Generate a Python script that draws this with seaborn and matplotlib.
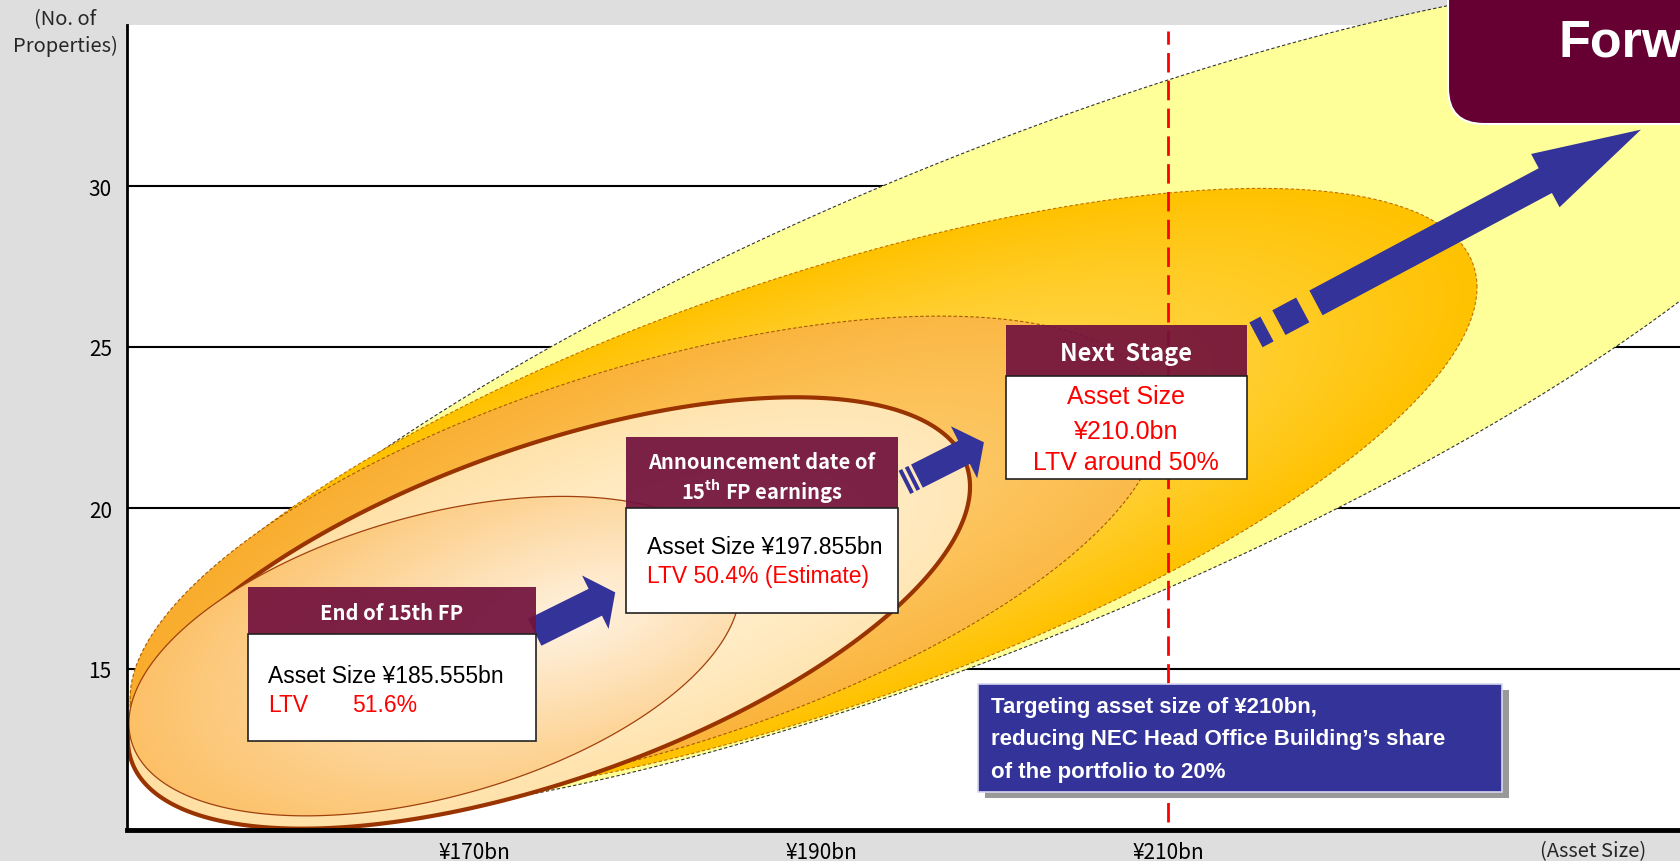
import numpy as np
import matplotlib
matplotlib.use("Agg")
import matplotlib.pyplot as plt
import matplotlib.transforms as mtransforms
from matplotlib.patches import Polygon, Rectangle, FancyBboxPatch, FancyArrowPatch
import seaborn as sns

# ---------------- data ----------------
x_ticks = [170, 190, 210]
x_tick_labels = ["¥170bn", "¥190bn", "¥210bn"]
y_ticks = [15, 20, 25, 30]
target_asset_size = 210  # ¥bn

stage_titles = ["End of 15th FP", "Announcement date of", "Next  Stage"]
stage_asset_sizes = [185.555, 197.855, 210.0]   # ¥bn
stage_ltv = [51.6, 50.4, 50]                      # %

target_note = ["Targeting asset size of ¥210bn,",
               "reducing NEC Head Office Building\u2019s share",
               "of the portfolio to 20%"]

# growth zones: centre x, centre y, half width (x), slope of the
# conjugate diameter, half height at centre (y)
zone_cx = [200.32, 188.99, 179.86, 174.32, 167.72]
zone_cy = [23.42, 20.37, 18.42, 16.74, 15.40]
zone_hx = [50.14, 38.82, 29.68, 24.27, 17.61]
zone_k = [0.2048, 0.167, 0.1455, 0.1616, 0.1185]
zone_hv = [8.04, 7.02, 6.18, 5.43, 4.50]

# ---------------- style ----------------
sns.set_theme(style="white")
plt.rcParams["font.family"] = ["Liberation Sans", "DejaVu Sans"]
plt.rcParams["mathtext.fontset"] = "custom"
plt.rcParams["mathtext.rm"] = "Noto Sans CJK JP:bold"
plt.rcParams["mathtext.it"] = "Noto Sans CJK JP:bold"
plt.rcParams["mathtext.bf"] = "Noto Sans CJK JP:bold"

JP = ["Noto Sans CJK JP", "DejaVu Sans"]
MAROON = "#72123D"
BLUE = "#333399"
FIG_W, FIG_H = 1681, 862
XLIM = (150, 239.57)
YLIM = (10, 35.0)

fig = plt.figure(figsize=(FIG_W / 100, FIG_H / 100), dpi=100, facecolor="#DEDEDE")
ax = fig.add_axes([127 / FIG_W, (FIG_H - 831) / FIG_H,
                   (FIG_W - 127) / FIG_W, (831 - 26) / FIG_H])
ax.set_facecolor("white")
# pixel coordinates measured from the top-left corner of the figure
pix = mtransforms.Affine2D().scale(1, -1).translate(0, FIG_H)


def zone_outline(i, n=720):
    t = np.linspace(0, 2 * np.pi, n)
    x = zone_cx[i] + zone_hx[i] * np.cos(t)
    y = zone_cy[i] + zone_k[i] * zone_hx[i] * np.cos(t) + zone_hv[i] * np.sin(t)
    return np.column_stack([x, y])


def hex_rgb(h):
    h = h.lstrip("#")
    return np.array([int(h[j:j + 2], 16) / 255 for j in (0, 2, 4)])


def gradient_zone(i, c_in, c_out, focus=(0.0, 0.0), gamma=1.0, z=1):
    gx = np.linspace(XLIM[0], XLIM[1], 900)
    gy = np.linspace(YLIM[0], YLIM[1], 450)
    X, Y = np.meshgrid(gx, gy)
    u = (X - zone_cx[i]) / zone_hx[i]
    v = ((Y - zone_cy[i]) - zone_k[i] * (X - zone_cx[i])) / zone_hv[i]
    r = np.hypot(u - focus[0], v - focus[1]) / (1 + np.hypot(*focus))
    t = np.clip(r, 0, 1) ** gamma
    rgb = hex_rgb(c_in) * (1 - t)[..., None] + hex_rgb(c_out) * t[..., None]
    im = ax.imshow(rgb, extent=(XLIM[0], XLIM[1], YLIM[0], YLIM[1]), origin="lower",
                   aspect="auto", interpolation="bilinear", zorder=z)
    im.set_clip_path(Polygon(zone_outline(i), closed=True, transform=ax.transData))


# outer zone (flat pale yellow, runs past the plot frame)
ax.add_patch(Polygon(zone_outline(0), closed=True, facecolor="#FFFF99",
                     edgecolor="#333333", lw=0.8, ls=(0, (3, 2)), zorder=1, clip_on=False))
# inner zones with soft radial shading
gradient_zone(1, "#FFDE6A", "#FFC200", gamma=1.4, z=2)
ax.add_patch(Polygon(zone_outline(1), closed=True, fill=False, edgecolor="#C07000",
                     lw=0.8, ls=(0, (3, 2)), zorder=2.1))
gradient_zone(2, "#FFD27A", "#F9AC2C", focus=(0.25, 0.0), gamma=1.0, z=3)
ax.add_patch(Polygon(zone_outline(2), closed=True, fill=False, edgecolor="#A65A00",
                     lw=0.8, ls=(0, (3, 2)), zorder=3.1))
gradient_zone(3, "#FFF2D6", "#FFDFA2", focus=(0.2, 0.0), gamma=1.3, z=4)
ax.add_patch(Polygon(zone_outline(3), closed=True, fill=False, edgecolor="#993300",
                     lw=3, zorder=4.1))
gradient_zone(4, "#FFF3E2", "#FCC066", focus=(0.45, 0.05), gamma=1.0, z=5)
ax.add_patch(Polygon(zone_outline(4), closed=True, fill=False, edgecolor="#A0410D",
                     lw=0.9, zorder=5.1))

# axes, grid, ticks
ax.set_xlim(*XLIM)
ax.set_ylim(*YLIM)
ax.set_xticks(x_ticks)
ax.set_xticklabels(x_tick_labels)
ax.set_yticks(y_ticks)
ax.set_yticklabels([str(v) for v in y_ticks])
ax.set_axisbelow(True)
ax.yaxis.grid(True, color="black", lw=1.5)
ax.xaxis.grid(False)
ax.tick_params(axis="both", length=0, labelsize=15, colors="black")
ax.tick_params(axis="y", pad=11)
ax.tick_params(axis="x", pad=8)
for lab in ax.get_xticklabels() + ax.get_yticklabels():
    lab.set_family(JP)
sns.despine(ax=ax, top=True, right=True)
ax.spines["left"].set_color("black")
ax.spines["left"].set_linewidth(2)
ax.spines["bottom"].set_color("black")
ax.spines["bottom"].set_linewidth(3.5)
ax.spines["bottom"].set_zorder(6)
ax.spines["left"].set_zorder(6)

# target line
ax.axvline(target_asset_size, ymin=0.01, ymax=0.992, color="red", lw=2,
           ls=(0, (7, 3)), zorder=6)


# ---------------- arrows ----------------
def block_arrow(tail, tip, tail_w, head_w, head_l, pieces=()):
    ax.add_patch(FancyArrowPatch(
        tail, tip, mutation_scale=1, color=BLUE, lw=0, shrinkA=0, shrinkB=0,
        arrowstyle=f"simple,head_length={head_l},head_width={head_w},tail_width={tail_w}",
        zorder=7))
    p0 = ax.transData.transform(tail)
    p1 = ax.transData.transform(tip)
    d = (p1 - p0) / np.linalg.norm(p1 - p0)
    inv = ax.transData.inverted()
    for s0, s1 in pieces:
        a = inv.transform(p0 + d * s0)
        b = inv.transform(p0 + d * s1)
        ax.plot([a[0], b[0]], [a[1], b[1]], color=BLUE, lw=tail_w,
                solid_capstyle="butt", zorder=7)


block_arrow((173.50, 16.14), (178.14, 17.38), 21.6, 43, 16)
block_arrow((195.53, 20.99), (199.39, 22.04), 18.7, 42, 16,
            pieces=[(-14, -10), (-7, -3)])
block_arrow((218.53, 26.37), (237.26, 31.75), 20.2, 43.5, 78,
            pieces=[(-42, -15), (-68, -55.5)])


# ---------------- stage boxes ----------------
def stage_box(x0, x1, top, mid, bot):
    ax.add_patch(Rectangle((x0, mid), x1 - x0, top - mid, facecolor=MAROON,
                           edgecolor="none", alpha=0.93, zorder=8))
    ax.add_patch(Rectangle((x0, bot), x1 - x0, mid - bot, facecolor="white",
                           edgecolor="#222222", lw=1.2, zorder=8))


# End of 15th FP
stage_box(156.97, 173.57, 17.55, 16.09, 12.76)
ax.text(165.27, 16.77, stage_titles[0], color="white", fontsize=14.5,
        fontweight="bold", family=JP, ha="center", va="center", zorder=9)
ax.text(158.13, 14.81, f"Asset Size ¥{stage_asset_sizes[0]:.3f}bn", color="black",
        fontsize=16.5, ha="left", va="center", zorder=9)
ax.text(158.13, 13.91, "LTV", color="red", fontsize=16.5, ha="left", va="center", zorder=9)
ax.text(162.97, 13.91, f"{stage_ltv[0]:.1f}%", color="red", fontsize=16.5,
        ha="left", va="center", zorder=9)

# Announcement date of 15th FP earnings
stage_box(178.76, 194.44, 22.20, 20.00, 16.74)
ax.text(186.6, 21.43, stage_titles[1], color="white", fontsize=14.5,
        fontweight="bold", family=JP, ha="center", va="center", zorder=9)
ax.text(186.6, 20.53, "15$^{\\mathrm{th}}$ FP earnings", color="white", fontsize=14.5,
        fontweight="bold", family=JP, ha="center", va="center", zorder=9)
ax.text(179.97, 18.79, f"Asset Size ¥{stage_asset_sizes[1]:.3f}bn", color="black",
        fontsize=16.5, ha="left", va="center", zorder=9)
ax.text(179.97, 17.89, f"LTV {stage_ltv[1]:.1f}% (Estimate)", color="red",
        fontsize=16.5, ha="left", va="center", zorder=9)

# Next Stage
stage_box(200.66, 214.55, 25.68, 24.10, 20.90)
ax.text(207.6, 24.81, stage_titles[2], color="white", fontsize=17,
        fontweight="bold", family=JP, ha="center", va="center", zorder=9)
ax.text(207.6, 23.48, "Asset Size", color="red", fontsize=18, ha="center",
        va="center", zorder=9)
ax.text(207.6, 22.39, f"¥{stage_asset_sizes[2]:.1f}bn", color="red", fontsize=18,
        ha="center", va="center", zorder=9)
ax.text(207.6, 21.43, f"LTV around {stage_ltv[2]}%", color="red", fontsize=18,
        ha="center", va="center", zorder=9)

# target note box with drop shadow
ax.add_patch(Rectangle((199.05 + 0.40, 11.18 - 0.19), 229.25 - 199.05, 14.53 - 11.18,
                       facecolor="#999999", edgecolor="none", zorder=8))
ax.add_patch(Rectangle((199.05, 11.18), 229.25 - 199.05, 14.53 - 11.18,
                       facecolor=BLUE, edgecolor="#D8D8F0", lw=1.2, zorder=8.1))
for line, yy in zip(target_note, [13.82, 12.83, 11.83]):
    ax.text(199.80, yy, line, color="white", fontsize=16, fontweight="bold",
            ha="left", va="center", zorder=9)

# ---------------- frame texts ----------------
fig.text(65, 20, "(No. of", transform=pix, fontsize=14.5, family=JP,
         ha="center", va="center")
fig.text(65, 46, "Properties)", transform=pix, fontsize=14.5, family=JP,
         ha="center", va="center")
fig.text(1593, 852, "(Asset Size)", transform=pix, fontsize=14.5, family=JP,
         ha="center", va="center")

# heading tab in the upper right corner (only its lower-left corner is on the page)
fig.add_artist(FancyBboxPatch((1448, -80), 400, 205, transform=pix,
                              boxstyle="round,pad=0,rounding_size=36",
                              facecolor="#660033", edgecolor="white", lw=1.5,
                              zorder=20))
fig.text(1559, 43, "Forw", transform=pix, color="white", fontsize=37.5,
         fontweight="bold", ha="left", va="center", zorder=21)

fig.savefig("out.png", dpi=100, facecolor=fig.get_facecolor())
